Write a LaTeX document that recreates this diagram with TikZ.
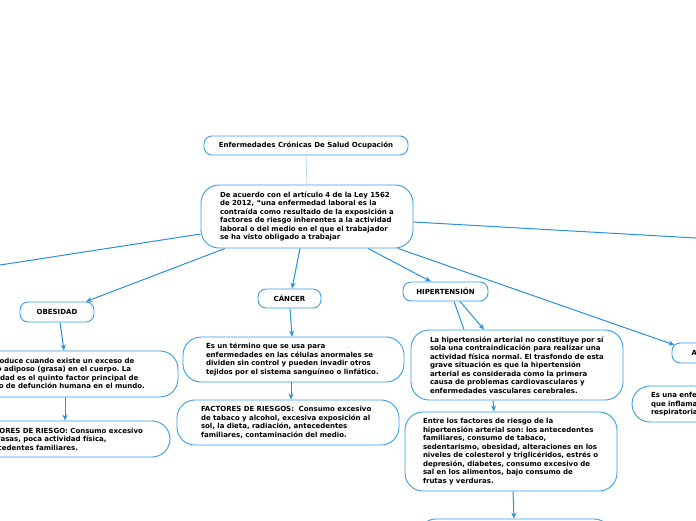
\documentclass[tikz,border=0pt]{standalone}
\usepackage{fontspec}
\setmainfont{DejaVu Sans}
\usetikzlibrary{arrows.meta}
\definecolor{bblue}{RGB}{58,157,228}
\definecolor{lblue}{RGB}{40,145,218}
\definecolor{pale}{RGB}{165,210,240}
\pgfdeclarelayer{bg}
\pgfsetlayers{bg,main}
\frenchspacing
\newcommand\lnbox[1]{\mbox{#1}}
\tikzset{
  txt/.style={font=\fontsize{7}{8.5}\selectfont\bfseries\frenchspacing, text=black},
  pill/.style={txt, draw=bblue, line width=0.9pt, fill=white, rounded corners=8pt, inner sep=0pt, align=center},
  bigbox/.style={txt, draw=bblue, line width=0.9pt, fill=white, rounded corners=18pt, inner sep=0pt, align=left},
  conn/.style={draw=lblue, line width=1pt, -{Stealth[length=6pt,width=5pt]}},
  plain/.style={draw=lblue, line width=1pt},
}
\begin{document}
\begin{tikzpicture}[x=1pt,y=-1pt]
\useasboundingbox (0,0) rectangle (696,520);

\node[pill, minimum width=204pt, minimum height=19pt] (title) at (306,145.5) {Enfermedades Crónicas De Salud Ocupación};

\node[bigbox, minimum width=212pt, minimum height=63pt, text width=174pt] (main) at (307,216.5)
{\lnbox{De acuerdo con el artículo 4 de la Ley 1562}\\
\lnbox{de 2012, “una enfermedad laboral es la}\\
\lnbox{contraída como resultado de la exposición a}\\
\lnbox{factores de riesgo inherentes a la actividad}\\
\lnbox{laboral o del medio en el que el trabajador}\\
\lnbox{se ha visto obligado a trabajar}};

\node[pill, minimum width=74pt, minimum height=20pt] (obes) at (57,312) {OBESIDAD};

\node[bigbox, minimum width=219pt, minimum height=46pt, text width=179pt] (odesc) at (68.5,374)
{\lnbox{Se produce cuando existe un exceso de}\\
\lnbox{tejido adiposo (grasa) en el cuerpo. La}\\
\lnbox{obesidad es el quinto factor principal de}\\
\lnbox{riesgo de defunción humana en el mundo.}};

\node[bigbox, minimum width=210pt, minimum height=36pt, text width=170pt] (ofact) at (65,439)
{\lnbox{FACTORES DE RIESGO: Consumo excesivo}\\
\lnbox{de grasas, poca actividad física,}\\
\lnbox{antecedentes familiares.}};

\node[pill, minimum width=63pt, minimum height=19pt] (cancer) at (289.5,298.5) {CÁNCER};

\node[bigbox, minimum width=221pt, minimum height=45pt, text width=175pt] (cdesc) at (293.5,359.5)
{\lnbox{Es un término que se usa para}\\
\lnbox{enfermedades en las células anormales se}\\
\lnbox{dividen sin control y pueden invadir otros}\\
\lnbox{tejidos por el sistema sanguíneo o linfático.}};

\node[bigbox, minimum width=222pt, minimum height=45pt, text width=174pt] (cfact) at (288,422.5)
{\lnbox{FACTORES DE RIESGOS:\ \ Consumo excesivo}\\
\lnbox{de tabaco y alcohol, excesiva exposición al}\\
\lnbox{sol, la dieta, radiación, antecedentes}\\
\lnbox{familiares, contaminación del medio.}};

\node[pill, minimum width=85pt, minimum height=19pt] (hiper) at (445.5,291.5) {HIPERTENSIÓN};

\node[bigbox, minimum width=212pt, minimum height=70pt, text width=174pt] (hdesc) at (517,365)
{\lnbox{La hipertensión arterial no constituye por sí}\\
\lnbox{sola una contraindicación para realizar una}\\
\lnbox{actividad física normal. El trasfondo de esta}\\
\lnbox{grave situación es que la hipertensión}\\
\lnbox{arterial es considerada como la primera}\\
\lnbox{causa de problemas cardiovasculares y}\\
\lnbox{enfermedades vasculares cerebrales.}};

\node[bigbox, minimum width=212pt, minimum height=79pt, text width=176pt] (hfact) at (511,451.5)
{\lnbox{Entre los factores de riesgo de la}\\
\lnbox{hipertensión arterial son: los antecedentes}\\
\lnbox{familiares, consumo de tabaco,}\\
\lnbox{sedentarismo, obesidad, alteraciones en los}\\
\lnbox{niveles de colesterol y triglicéridos, estrés o}\\
\lnbox{depresión, diabetes, consumo excesivo de}\\
\lnbox{sal en los alimentos, bajo consumo de}\\
\lnbox{frutas y verduras.}};

\node[bigbox, minimum width=194pt, minimum height=40pt] (hbot) at (515,539) {};

\node[pill, minimum width=62pt, minimum height=20pt] (asma) at (703,353) {ASMA};

\node[bigbox, minimum width=200pt, minimum height=36pt, text width=162pt] (adesc) at (732,404)
{\lnbox{Es una enfermedad crónica}\\
\lnbox{que inflama y estrecha las vías}\\
\lnbox{respiratorias.}};

\coordinate (offL) at (0,265);
\coordinate (offR) at (696,238);

\begin{pgfonlayer}{bg}
\fill[white] (0,0) rectangle (696,520);
\draw[pale, line width=0.6pt] (title.south) -- (main.north);
\draw[plain] ([yshift=-17.5pt]main.west) -- (offL);
\draw[plain] ([yshift=-5.5pt]main.east) -- (offR);
\draw[conn] ([xshift=-82pt]main.south) -- ([xshift=29pt]obes.north);
\draw[conn] ([xshift=-7pt]main.south) -- ([xshift=2.5pt]cancer.north);
\draw[conn] ([xshift=61pt]main.south) -- ([xshift=-14.5pt]hiper.north);
\draw[conn] ([xshift=91pt]main.south) -- ([xshift=3pt,yshift=8pt]asma.west);
\draw[conn] ([xshift=3pt]obes.south) -- ([xshift=-4.5pt]odesc.north);
\draw[conn] ([xshift=-3.5pt]odesc.south) -- ([xshift=0pt]ofact.north);
\draw[conn] ([xshift=0.5pt]cancer.south) -- ([xshift=-1.5pt]cdesc.north);
\draw[conn] ([xshift=-2.5pt]cdesc.south) -- ([xshift=3pt]cfact.north);
\draw[conn] ([xshift=14.5pt]hiper.south) -- ([xshift=-33pt]hdesc.north);
\draw[plain] ([xshift=8.5pt]hiper.south) -- ([xshift=-53pt]hdesc.north);
\draw[conn] ([xshift=-24pt]hdesc.south) -- ([xshift=-17pt]hfact.north);
\draw[conn] ([xshift=2pt]hfact.south) -- ([xshift=-1pt]hbot.north);
\end{pgfonlayer}
\end{tikzpicture}
\end{document}
